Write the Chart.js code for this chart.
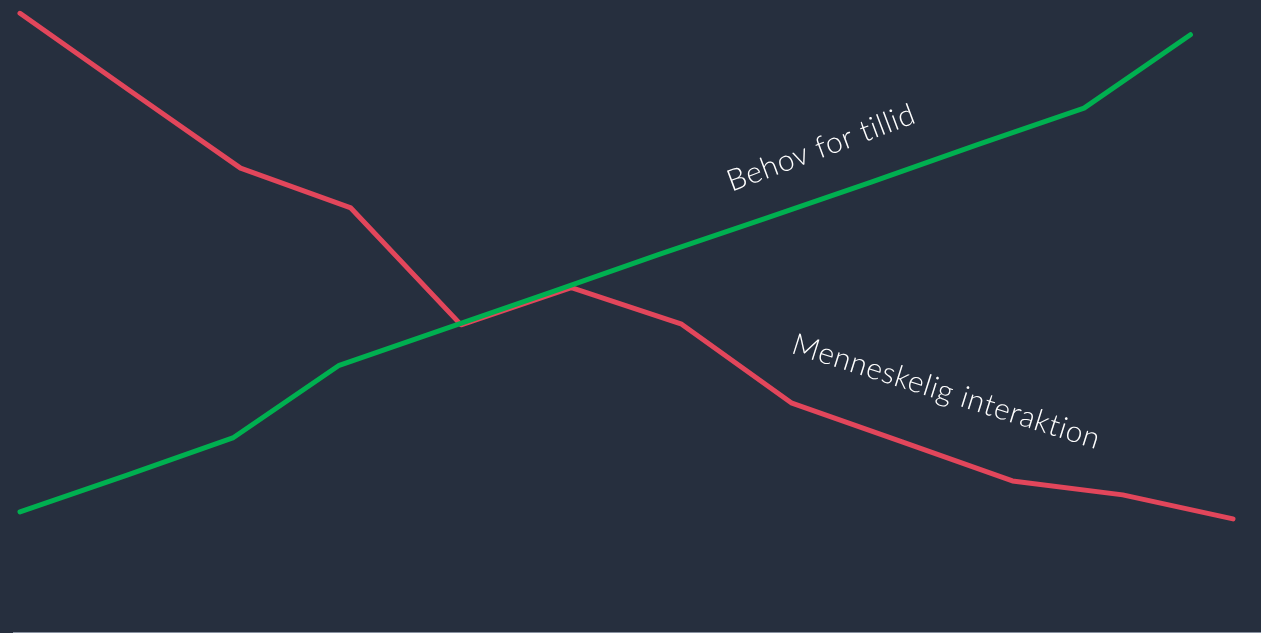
<!DOCTYPE html>
<html>
<head>
<meta charset="utf-8">
<script src="https://cdn.jsdelivr.net/npm/chart.js@4"></script>
<style>
    html, body { margin: 0; padding: 0; background: #262f3e; }
    #wrap { width: 1261px; height: 633px; }
</style>
</head>
<body>
<div id="wrap"><canvas id="myChart" width="1261" height="633"></canvas></div>
<script>
const steps = [0, 1, 2, 3, 4, 5, 6, 7, 8, 9, 10, 11];

const tillidValues = [19.0, 24.8, 30.7, 42.2, 48.0, 53.8, 59.7, 65.4, 71.2, 77.1, 82.9, 94.5];
const interaktionValues = [97.9, 85.6, 73.4, 67.1, 48.6, 54.5, 48.7, 36.2, 30.1, 23.9, 21.7, 17.9];

const seriesLabels = ['Behov for tillid', 'Menneskelig interaktion'];

const green = '#00b050';
const red = '#e2465b';

const lineLabels = {
    id: 'lineLabels',
    afterDatasetsDraw(chart) {
        const ctx = chart.ctx;
        const items = [
            { text: seriesLabels[0], x: chart.scales.x2.getPixelForValue(7.53), y: chart.scales.y.getPixelForValue(76.6), angle: -20.5 },
            { text: seriesLabels[1], x: chart.scales.x.getPixelForValue(8.40), y: chart.scales.y.getPixelForValue(38.0), angle: 17.5 },
        ];
        ctx.save();
        ctx.fillStyle = '#ffffff';
        ctx.font = '300 30px Lato, "DejaVu Sans", sans-serif';
        ctx.letterSpacing = '0.6px';
        ctx.textAlign = 'center';
        ctx.textBaseline = 'middle';
        items.forEach(item => {
            ctx.save();
            ctx.translate(item.x, item.y);
            ctx.rotate(item.angle * Math.PI / 180);
            ctx.fillText(item.text, 0, 0);
            ctx.restore();
        });
        ctx.restore();
    },
    afterDraw(chart) {
        // thin rule along the bottom edge
        const ctx = chart.ctx;
        ctx.save();
        ctx.strokeStyle = '#8891a0';
        ctx.lineWidth = 1;
        ctx.beginPath();
        ctx.moveTo(13, chart.height - 0.5);
        ctx.lineTo(chart.width, chart.height - 0.5);
        ctx.stroke();
        ctx.restore();
    },
};

const ctx = document.getElementById('myChart').getContext('2d');

new Chart(ctx, {
    type: 'line',
    data: {
        datasets: [
            {
                label: seriesLabels[0],
                data: steps.map((s, i) => ({ x: s, y: tillidValues[i] })),
                xAxisID: 'x2',
                borderColor: green,
            },
            {
                label: seriesLabels[1],
                data: steps.map((s, i) => ({ x: s, y: interaktionValues[i] })),
                xAxisID: 'x',
                borderColor: red,
            },
        ],
    },
    options: {
        responsive: false,
        animation: false,
        clip: false,
        layout: { padding: { left: 20, right: 28, top: 0, bottom: 1 } },
        elements: {
            line: {
                borderWidth: 5,
                tension: 0,
                borderCapStyle: 'round',
                borderJoinStyle: 'round',
            },
            point: { radius: 0, hoverRadius: 0 },
        },
        plugins: {
            legend: { display: false },
            tooltip: { enabled: false },
        },
        scales: {
            x: { type: 'linear', display: false, min: 0, max: 11 },
            x2: { type: 'linear', display: false, min: 0, max: 11.4 },
            y: { display: false, min: 0, max: 100 },
        },
    },
    plugins: [lineLabels],
});
</script>
</body>
</html>
